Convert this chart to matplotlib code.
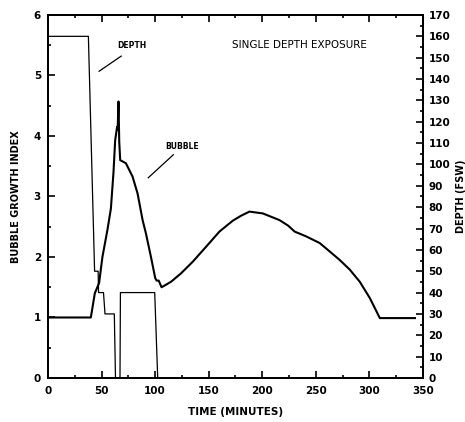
import matplotlib
matplotlib.use("Agg")
import matplotlib.pyplot as plt
from matplotlib.ticker import MultipleLocator

# Bubble growth index vs time (minutes)
bubble_t = [0, 40, 43.7, 47.7, 50.8, 55.5, 58.7, 61.1, 62.7, 64.5, 65.0, 65.8, 66.5, 67.4,
            72.7, 78.9, 83.6, 88.3, 91.4, 96.1, 100.1, 101.4, 103.3, 106, 110, 114.8,
            124.2, 135, 147.6, 160, 172.5, 180, 188, 200.5, 216, 224, 230.2, 241,
            253.6, 263, 272.3, 281.7, 291, 300.4, 309.7, 342.5]
bubble_v = [1.0, 1.0, 1.40, 1.57, 2.0, 2.45, 2.80, 3.39, 3.93, 4.15, 4.10, 4.57, 3.9, 3.60,
            3.55, 3.33, 3.05, 2.61, 2.39, 2.0, 1.65, 1.61, 1.61, 1.50, 1.54, 1.59,
            1.73, 1.92, 2.17, 2.42, 2.60, 2.68, 2.75, 2.72, 2.61, 2.52, 2.42, 2.34,
            2.23, 2.09, 1.95, 1.79, 1.59, 1.32, 0.99, 0.99]

# Depth profile (fsw) vs time (minutes)
depth_t = [0, 0.3, 37.7, 43.5, 46.8, 47.2, 51.8, 53.2, 61.9, 63.0, 67.2, 67.6, 99.6, 102.4, 350]
depth_v = [0, 160, 160, 50, 50, 40, 40, 30, 30, 0, 0, 40, 40, 0, 0]

x_ticks = [0, 50, 100, 150, 200, 250, 300, 350]
y_ticks = [0, 1, 2, 3, 4, 5, 6]
d_ticks = list(range(0, 171, 10))

FONT = "DejaVu Sans"
fig = plt.figure(figsize=(4.65, 4.22), dpi=100)
ax = fig.add_axes([0.1032, 0.1043, 0.8065, 0.8602])
ax2 = ax.twinx()

ax.plot(bubble_t, bubble_v, color="black", lw=1.5, solid_joinstyle="round")
ax2.plot(depth_t, depth_v, color="black", lw=0.9)

ax.set_xlim(0, 350)
ax.set_ylim(0, 6)
ax2.set_ylim(0, 170)

ax.set_xticks(x_ticks)
ax.set_yticks(y_ticks)
ax2.set_yticks(d_ticks)
ax.xaxis.set_minor_locator(MultipleLocator(25))
ax.yaxis.set_minor_locator(MultipleLocator(0.5))
ax2.yaxis.set_minor_locator(MultipleLocator(5))

for a in (ax, ax2):
    for s in a.spines.values():
        s.set_linewidth(1.4)

ax.tick_params(axis="x", which="both", direction="in", top=True, width=1.2)
ax.tick_params(axis="x", which="major", length=5, pad=6)
ax.tick_params(axis="x", which="minor", length=2.5)
ax.tick_params(axis="y", which="both", direction="in", right=False, width=1.2)
ax.tick_params(axis="y", which="major", length=5, pad=5)
ax.tick_params(axis="y", which="minor", length=2.5)
ax2.tick_params(axis="y", which="both", direction="in", width=1.2)
ax2.tick_params(axis="y", which="major", length=5, pad=4)
ax2.tick_params(axis="y", which="minor", length=2.5)

for lab in ax.get_xticklabels() + ax.get_yticklabels() + ax2.get_yticklabels():
    lab.set_fontfamily(FONT)
    lab.set_fontsize(7.5)
    lab.set_fontweight("bold")

ax.set_xlabel("TIME (MINUTES)", fontsize=7.5, fontweight="bold", family=FONT, labelpad=8)
ax.set_ylabel("BUBBLE GROWTH INDEX", fontsize=7, fontweight="bold", family=FONT, labelpad=9)
ax2.set_ylabel("DEPTH (FSW)", fontsize=7, fontweight="bold", family=FONT, rotation=90, labelpad=4)

ax.text(172, 5.50, "SINGLE DEPTH EXPOSURE", fontsize=7.5, family=FONT, va="center", ha="left")
ax.text(64.6, 5.49, "DEPTH", fontsize=5.5, fontweight="bold", family=FONT, va="center", ha="left")
ax.plot([47.7, 68.3], [5.07, 5.32], color="black", lw=0.9)
ax.text(109.5, 3.83, "BUBBLE", fontsize=5.5, fontweight="bold", family=FONT, va="center", ha="left")
ax.plot([93.6, 117], [3.31, 3.69], color="black", lw=0.9)

fig.savefig("out.png", dpi=100)
